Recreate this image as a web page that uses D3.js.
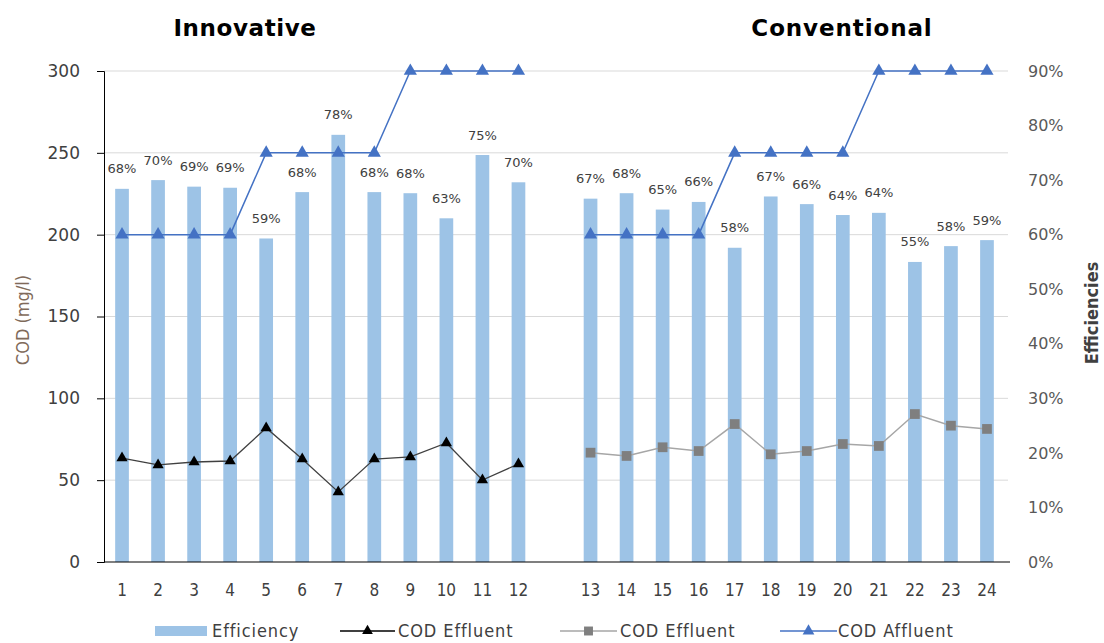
<!DOCTYPE html>
<html>
<head>
<meta charset="utf-8">
<script src="https://cdn.jsdelivr.net/npm/d3@7"></script>
<style>
    body { margin: 0; background: #fff; }
</style>
</head>
<body>
<div id="chart"></div>
<script>
// Data
var days = ["1","2","3","4","5","6","7","8","9","10","11","12",
            "13","14","15","16","17","18","19","20","21","22","23","24"];
var efficiency = [0.684, 0.700, 0.688, 0.686, 0.593, 0.678, 0.783, 0.678, 0.676, 0.630, 0.746, 0.696,
                  0.666, 0.676, 0.646, 0.660, 0.576, 0.670, 0.656, 0.636, 0.640, 0.550, 0.579, 0.590];
var effluentInnovative = [63.5, 59.3, 61.1, 61.7, 81.9, 62.9, 42.8, 62.9, 64.2, 72.7, 50.1, 59.9];
var effluentConventional = [66.8, 64.8, 70.1, 67.8, 84.3, 65.8, 67.8, 72.1, 70.9, 90.4, 83.3, 81.3];
var affluentInnovative = [200, 200, 200, 200, 250, 250, 250, 250, 300, 300, 300, 300];
var affluentConventional = [200, 200, 200, 200, 250, 250, 250, 250, 300, 300, 300, 300];
var codTicks = [0, 50, 100, 150, 200, 250, 300];
var effTicks = [0, 0.1, 0.2, 0.3, 0.4, 0.5, 0.6, 0.7, 0.8, 0.9];

var innovDays = days.slice(0, 12),
    convDays = days.slice(12);

// Chart dimensions
var width = 1104, height = 643;
var margin = {top: 71, right: 99, bottom: 81, left: 104};

var narrow = "'Liberation Sans Narrow', 'DejaVu Sans Condensed', sans-serif";

var svg = d3.select("#chart").append("svg")
    .attr("width", width)
    .attr("height", height)
    .style("font-family", "'DejaVu Sans', Verdana, sans-serif");

// 25 slots: an empty one between the two groups
var slots = innovDays.concat(["gap"]).concat(convDays);
var x = d3.scaleBand().domain(slots)
    .range([margin.left, width - margin.right])
    .paddingInner(0.62).paddingOuter(0.31);
var y = d3.scaleLinear().domain([0, 300]).range([height - margin.bottom, margin.top]);
var yR = d3.scaleLinear().domain([0, 0.9]).range([height - margin.bottom, margin.top]);

function cx(d) { return x(d) + x.bandwidth() / 2; }

// Gridlines
svg.append("g").selectAll("line")
    .data(codTicks.slice(1))
    .enter().append("line")
    .attr("x1", margin.left).attr("x2", width - margin.right + 3)
    .attr("y1", function(d) { return y(d); })
    .attr("y2", function(d) { return y(d); })
    .style("stroke", "#d9d9d9")
    .style("stroke-width", 1);

// Bars
svg.append("g").selectAll("rect")
    .data(days)
    .enter().append("rect")
    .attr("x", function(d) { return x(d); })
    .attr("width", x.bandwidth())
    .attr("y", function(d, i) { return yR(efficiency[i]); })
    .attr("height", function(d, i) { return yR(0) - yR(efficiency[i]); })
    .style("fill", "#9dc3e6");

// Line series
function drawSeries(keys, values, lineColor, lineWidth, symbol, symSize, symColor) {
    var line = d3.line()
        .x(function(d) { return cx(d); })
        .y(function(d, i) { return y(values[i]); });
    svg.append("path")
        .datum(keys)
        .attr("d", line)
        .style("fill", "none")
        .style("stroke", lineColor)
        .style("stroke-width", lineWidth);
    svg.append("g").selectAll("path")
        .data(keys)
        .enter().append("path")
        .attr("d", d3.symbol().type(symbol).size(symSize))
        .attr("transform", function(d, i) { return "translate(" + cx(d) + "," + y(values[i]) + ")"; })
        .style("fill", symColor);
}

drawSeries(innovDays, effluentInnovative, "#404040", 1.3, d3.symbolTriangle, 55, "#000");
drawSeries(convDays, effluentConventional, "#a6a6a6", 1.5, d3.symbolSquare, 95, "#7f7f7f");
drawSeries(innovDays, affluentInnovative, "#4472c4", 1.5, d3.symbolTriangle, 75, "#4472c4");
drawSeries(convDays, affluentConventional, "#4472c4", 1.5, d3.symbolTriangle, 75, "#4472c4");

// Data labels
var pct = d3.format(".0%");
svg.append("g").selectAll("text")
    .data(days)
    .enter().append("text")
    .attr("x", function(d) { return cx(d); })
    .attr("y", function(d, i) { return yR(efficiency[i]) - 20; })
    .attr("dy", "0.35em")
    .attr("text-anchor", "middle")
    .style("font-size", "13px")
    .style("fill", "#404040")
    .text(function(d, i) { return pct(efficiency[i]); });

// Left axis
var yAxis = d3.axisLeft(y).tickValues(codTicks).tickSize(7).tickPadding(17);
var gy = svg.append("g")
    .attr("transform", "translate(" + margin.left + ",0)")
    .call(yAxis);
gy.selectAll("path, line").style("stroke", "#000");
gy.selectAll("text").style("font-size", "17px").style("fill", "#404040")
    .style("font-family", "'DejaVu Sans', Verdana, sans-serif");

// Right axis (labels only)
var yAxisR = d3.axisRight(yR).tickValues(effTicks).tickFormat(d3.format(".0%")).tickSize(0).tickPadding(0);
var gr = svg.append("g")
    .attr("transform", "translate(1028,0)")
    .call(yAxisR);
gr.select(".domain").remove();
gr.selectAll("text").style("font-size", "16px").style("fill", "#595959")
    .style("font-family", "'DejaVu Sans', Verdana, sans-serif");

// Bottom axis
svg.append("line")
    .attr("x1", margin.left).attr("x2", width - margin.right + 5)
    .attr("y1", y(0)).attr("y2", y(0))
    .style("stroke", "#000").style("stroke-width", 1.2);

svg.append("g").selectAll("text")
    .data(days)
    .enter().append("text")
    .attr("x", function(d) { return cx(d); })
    .attr("y", 590)
    .attr("dy", "0.35em")
    .attr("text-anchor", "middle")
    .style("font-family", narrow)
    .style("font-size", "17px")
    .style("fill", "#404040")
    .text(function(d) { return d; });

// Titles
svg.append("text")
    .attr("x", 245).attr("y", 28).attr("dy", "0.35em")
    .attr("text-anchor", "middle")
    .style("font-size", "23px").style("font-weight", "bold").style("fill", "#000")
    .style("letter-spacing", "0.6px")
    .text("Innovative");
svg.append("text")
    .attr("x", 842).attr("y", 28).attr("dy", "0.35em")
    .attr("text-anchor", "middle")
    .style("font-size", "23px").style("font-weight", "bold").style("fill", "#000")
    .style("letter-spacing", "0.9px")
    .text("Conventional");

// Axis labels
svg.append("text")
    .attr("transform", "translate(23,320) rotate(-90)")
    .attr("dy", "0.35em")
    .attr("text-anchor", "middle")
    .style("font-family", narrow)
    .style("font-size", "18px").style("fill", "#7f6a5a")
    .text("COD (mg/l)");
svg.append("text")
    .attr("transform", "translate(1092,313) rotate(-90)")
    .attr("dy", "0.35em")
    .attr("text-anchor", "middle")
    .style("font-family", narrow)
    .style("font-size", "18px").style("font-weight", "bold").style("fill", "#404040")
    .text("Efficiencies");

// Legend
var legendY = 631;
var legend = svg.append("g").style("font-family", narrow).style("font-size", "18px")
    .style("letter-spacing", "0.9px").style("fill", "#404040");

legend.append("rect").attr("x", 155).attr("y", legendY - 5).attr("width", 52).attr("height", 10)
    .style("fill", "#9dc3e6");
legend.append("text").attr("x", 212).attr("y", legendY).attr("dy", "0.35em").text("Efficiency");

var legendLines = [
    {x1: 340, x2: 395, color: "#000", sym: d3.symbolTriangle, size: 50, symColor: "#000", text: "COD Effluent", tx: 398},
    {x1: 560, x2: 617, color: "#a6a6a6", sym: d3.symbolSquare, size: 80, symColor: "#7f7f7f", text: "COD Effluent", tx: 620},
    {x1: 780, x2: 837, color: "#4472c4", sym: d3.symbolTriangle, size: 60, symColor: "#4472c4", text: "COD Affluent", tx: 838}
];
legendLines.forEach(function(l) {
    legend.append("line").attr("x1", l.x1).attr("x2", l.x2).attr("y1", legendY).attr("y2", legendY)
        .style("stroke", l.color).style("stroke-width", 1.5);
    legend.append("path").attr("d", d3.symbol().type(l.sym).size(l.size))
        .attr("transform", "translate(" + ((l.x1 + l.x2) / 2) + "," + legendY + ")")
        .style("fill", l.symColor);
    legend.append("text").attr("x", l.tx).attr("y", legendY).attr("dy", "0.35em").text(l.text);
});
</script>
</body>
</html>
